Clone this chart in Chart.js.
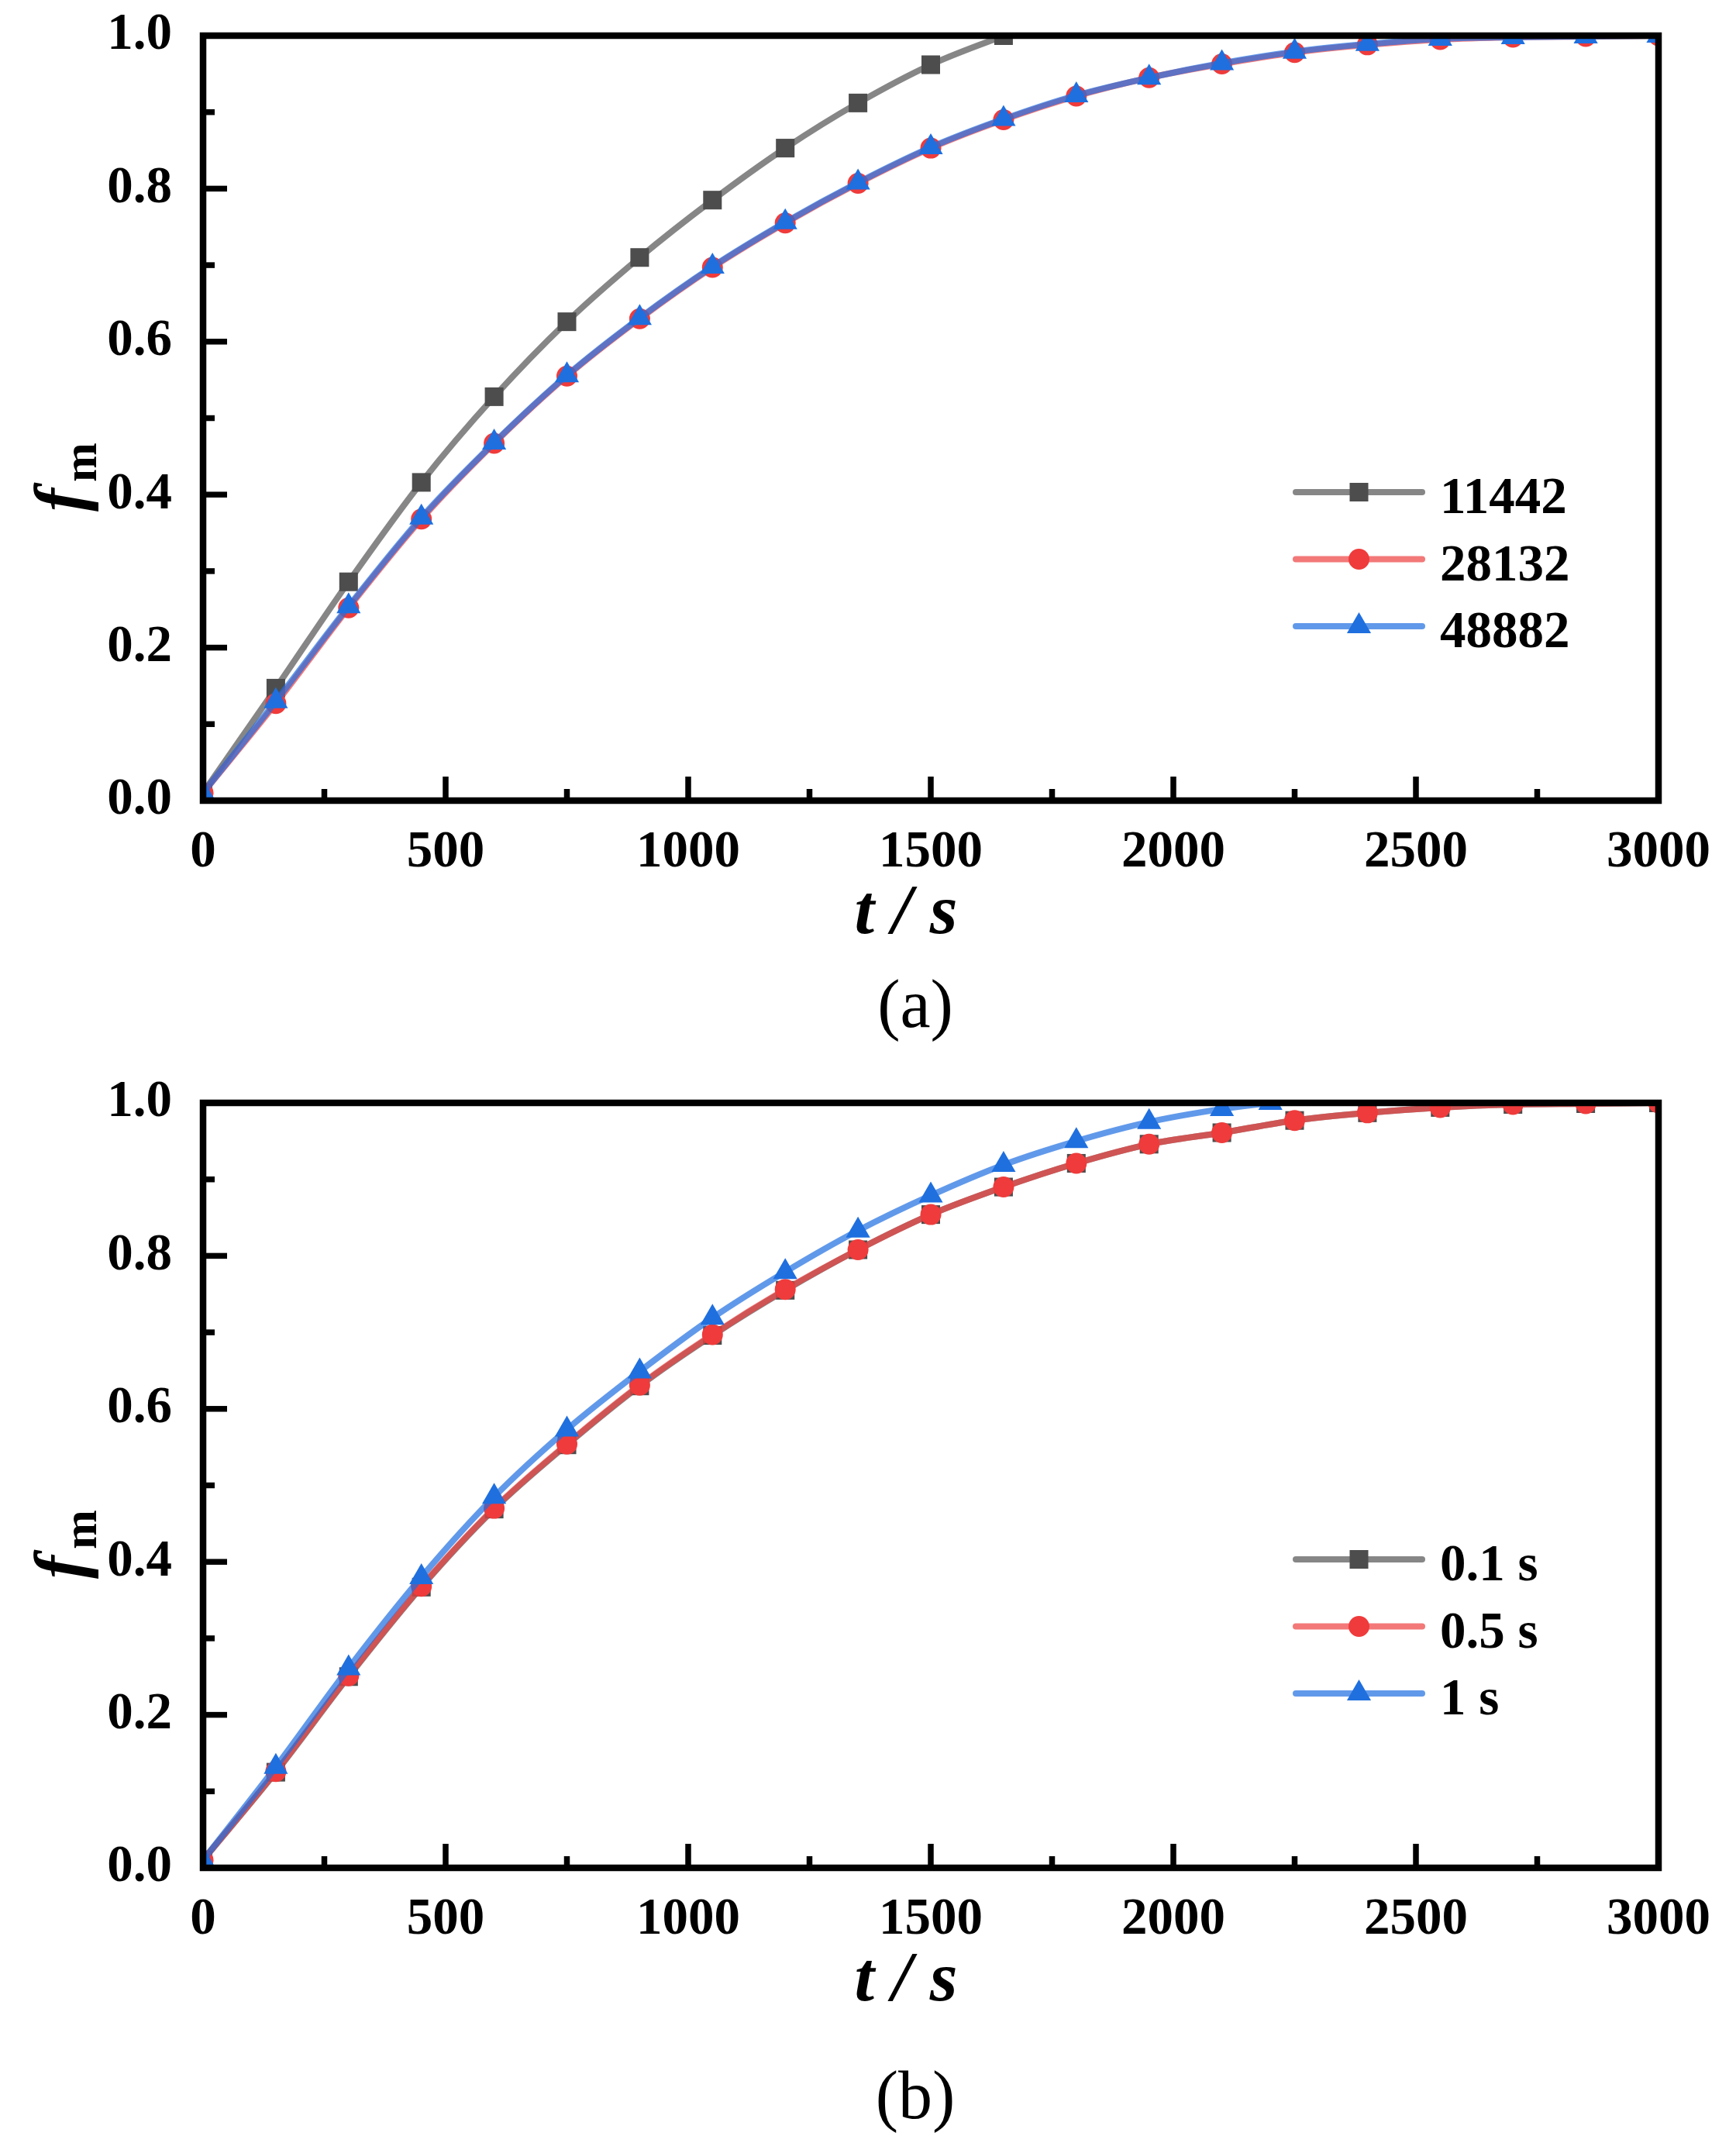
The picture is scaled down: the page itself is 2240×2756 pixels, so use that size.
<!DOCTYPE html>
<html><head><meta charset="utf-8">
<script src="https://cdn.jsdelivr.net/npm/chart.js@4/dist/chart.umd.min.js"></script>
<style>
html,body{margin:0;padding:0;background:#fff;}
#wrap{position:relative;width:2240px;height:2756px;background:#fff;}
canvas{position:absolute;left:0;}
</style>
</head><body>
<div id="wrap">
<canvas id="ca" width="2240" height="1378" style="top:0px;width:2240px;height:1378px"></canvas>
<canvas id="cb" width="2240" height="1378" style="top:1378px;width:2240px;height:1378px"></canvas>
</div>
<script>
// ---------- data ----------
const timeFull = [0,150,300,450,600,750,900,1050,1200,1350,1500,1650,1800,1950,2100,2250,2400,2550,2700,2850,3000];
// panel (a)
const legendA = ['11442','28132','48882'];
const valA11442 = [0.010,0.147,0.286,0.416,0.528,0.626,0.710,0.785,0.853,0.912,0.962,1.000];
const valA28132 = [0.010,0.127,0.252,0.368,0.467,0.555,0.630,0.697,0.755,0.807,0.853,0.890,0.921,0.945,0.963,0.978,0.988,0.995,0.998,0.999,1.000];
const valA48882 = [0.010,0.130,0.254,0.370,0.468,0.556,0.631,0.698,0.756,0.808,0.854,0.891,0.922,0.945,0.964,0.979,0.989,0.996,0.998,0.999,1.000];
// panel (b)
const legendB = ['0.1 s','0.5 s','1 s'];
const valB01 = [0.010,0.125,0.250,0.367,0.469,0.553,0.630,0.696,0.755,0.808,0.854,0.890,0.921,0.946,0.961,0.977,0.987,0.994,0.998,0.999,1.000];
const valB05 = [0.010,0.126,0.251,0.368,0.470,0.554,0.631,0.697,0.756,0.808,0.854,0.890,0.921,0.946,0.961,0.977,0.987,0.994,0.998,0.999,1.000];
const timeB1 = [0,150,300,450,600,750,900,1050,1200,1350,1500,1650,1800,1950,2100,2200];
const valB1  = [0.010,0.132,0.261,0.380,0.485,0.573,0.649,0.719,0.779,0.833,0.879,0.919,0.950,0.975,0.992,1.000];
// ticks
const xTickValues = [0,500,1000,1500,2000,2500,3000];
const xTickLabels = ['0','500','1000','1500','2000','2500','3000'];
const yTickValues = [0,0.2,0.4,0.6,0.8,1.0];
const yTickLabels = ['0.0','0.2','0.4','0.6','0.8','1.0'];
const xTitle = 't / s';
const yTitleMain = 'f';
const yTitleSub = 'm';

// ---------- style ----------
const FONT = "'Liberation Serif','Times New Roman',serif";
const styles = [
  {line:'rgba(128,128,128,0.95)', fill:'#4d4d4d', shape:'rect', r:17},
  {line:'rgba(238,62,62,0.7)', fill:'#ef3b3b', shape:'circle', r:13.5},
  {line:'rgba(30,110,225,0.7)', fill:'#1f6fdf', shape:'triangle', r:18}
];
const CW = 2240, CH = 1378;

function pairs(ts, vs){ return vs.map((v,i)=>({x:ts[i], y:v})); }

function makeDatasets(labels, series){
  return series.map((d,i)=>({
    label: labels[i],
    data: pairs(d[0], d[1]),
    borderColor: styles[i].line,
    borderWidth: 8,
    borderCapStyle: 'round',
    borderJoinStyle: 'round',
    backgroundColor: styles[i].fill,
    pointStyle: styles[i].shape,
    pointRadius: styles[i].r,
    pointHoverRadius: styles[i].r,
    pointBackgroundColor: styles[i].fill,
    pointBorderColor: styles[i].fill,
    pointBorderWidth: 0,
    cubicInterpolationMode: 'monotone',
    fill: false,
    clip: 0,
    order: 3 - i
  }));
}

function midpoints(arr){ const o=[]; for(let i=0;i<arr.length-1;i++) o.push((arr[i]+arr[i+1])/2); return o; }

const framePlugin = {
  id: 'frame',
  afterDatasetsDraw(chart, args, opts){
    const ctx = chart.ctx, a = chart.chartArea, xs = chart.scales.x, ys = chart.scales.y;
    ctx.save();
    ctx.strokeStyle = '#000';
    ctx.lineCap = 'butt';
    ctx.lineWidth = 7.5;
    const seg = (x1,y1,x2,y2)=>{ ctx.beginPath(); ctx.moveTo(x1,y1); ctx.lineTo(x2,y2); ctx.stroke(); };
    xTickValues.forEach(v=>{ const p = xs.getPixelForValue(v); seg(p, a.bottom, p, a.bottom-31); });
    midpoints(xTickValues).forEach(v=>{ const p = xs.getPixelForValue(v); seg(p, a.bottom, p, a.bottom-15); });
    yTickValues.forEach(v=>{ const p = ys.getPixelForValue(v); seg(a.left, p, a.left+31, p); });
    midpoints(yTickValues).forEach(v=>{ const p = ys.getPixelForValue(v); seg(a.left, p, a.left+15, p); });
    ctx.lineWidth = 8.5;
    ctx.lineJoin = 'miter';
    ctx.strokeRect(a.left, a.top, a.right - a.left, a.bottom - a.top);

    // legend
    const x1 = a.left + 1410, x2 = a.left + 1573, xm = (x1+x2)/2, tx = a.left + 1596;
    chart.data.datasets.forEach((ds, i)=>{
      const yy = a.top + 589 + i*86.5;
      ctx.strokeStyle = ds.borderColor;
      ctx.lineWidth = 8;
      ctx.lineCap = 'round';
      seg(x1, yy, x2, yy);
      ctx.fillStyle = ds.pointBackgroundColor;
      Chart.helpers.drawPoint(ctx, {pointStyle: ds.pointStyle, radius: ds.pointRadius, rotation: 0, borderWidth: 0}, xm, yy);
      ctx.fillStyle = '#000';
      ctx.font = 'bold 67px ' + FONT;
      ctx.textAlign = 'left';
      ctx.textBaseline = 'alphabetic';
      ctx.fillText(ds.label, tx, yy + 27);
    });

    // x title
    ctx.fillStyle = '#000';
    ctx.font = 'italic bold 92px ' + FONT;
    ctx.textAlign = 'center';
    ctx.textBaseline = 'alphabetic';
    ctx.fillText(xTitle, a.left + 907, a.bottom + 171);

    // y title (rotated)
    ctx.save();
    ctx.translate(a.left - 154, a.top + 614);
    ctx.rotate(-Math.PI/2);
    ctx.textAlign = 'left';
    ctx.font = 'italic bold 90px ' + FONT;
    ctx.fillText(yTitleMain, 0, 0);
    const wf = ctx.measureText(yTitleMain).width;
    ctx.font = 'bold 61px ' + FONT;
    ctx.fillText(yTitleSub, wf + 8, 16);
    ctx.restore();

    // caption
    ctx.font = '88px ' + FONT;
    ctx.textAlign = 'center';
    ctx.fillText(opts.caption, opts.captionX, opts.captionY);
    ctx.restore();
  }
};

function makeChart(id, labels, series, caption, captionY, padTop){
  const xAxisH = CH - padTop - 987;
  return new Chart(document.getElementById(id), {
    type: 'line',
    data: { datasets: makeDatasets(labels, series) },
    options: {
      responsive: false,
      devicePixelRatio: 1,
      animation: false,
      events: [],
      layout: { padding: { top: padTop, right: 100, left: 0, bottom: 0 } },
      plugins: {
        legend: { display: false },
        tooltip: { enabled: false },
        frame: { caption: caption, captionX: 1181, captionY: captionY }
      },
      scales: {
        x: {
          type: 'linear', min: 0, max: 3000,
          afterBuildTicks: s => { s.ticks = xTickValues.map(v=>({value:v})); },
          afterFit: s => { s.height = xAxisH; s.paddingLeft = 0; s.paddingRight = 0; s.paddingTop = 0; s.paddingBottom = 0; },
          grid: { display: false },
          border: { display: false },
          ticks: {
            autoSkip: false, maxRotation: 0, minRotation: 0,
            padding: 26,
            color: '#000',
            font: { family: FONT, weight: 'bold', size: 67, lineHeight: 1 },
            callback: (v) => { const i = xTickValues.indexOf(v); return i >= 0 ? xTickLabels[i] : ''; }
          }
        },
        y: {
          type: 'linear', min: 0, max: 1,
          afterBuildTicks: s => { s.ticks = yTickValues.map(v=>({value:v})); },
          afterFit: s => { s.width = 262; s.paddingTop = 0; s.paddingBottom = 0; s.paddingLeft = 0; s.paddingRight = 0; },
          grid: { display: false },
          border: { display: false },
          ticks: {
            autoSkip: false,
            padding: 32,
            color: '#000',
            font: { family: FONT, weight: 'bold', size: 67, lineHeight: 1 },
            callback: (v) => { const i = yTickValues.findIndex(t => Math.abs(t - v) < 1e-9); return i >= 0 ? yTickLabels[i] : ''; }
          }
        }
      }
    },
    plugins: [framePlugin]
  });
}

makeChart('ca', legendA, [
  [timeFull, valA11442],
  [timeFull, valA28132],
  [timeFull, valA48882]
], '(a)', 1325, 46);

makeChart('cb', legendB, [
  [timeFull, valB01],
  [timeFull, valB05],
  [timeB1, valB1]
], '(b)', 1355, 45);
</script>
</body></html>
